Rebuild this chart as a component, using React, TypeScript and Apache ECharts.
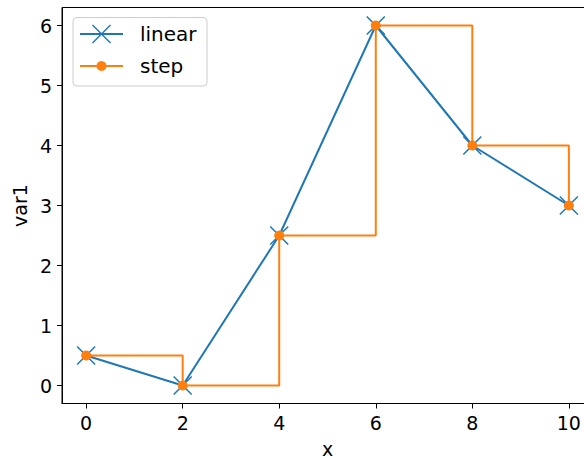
import React, { useEffect, useRef } from "react";
import * as echarts from "echarts";

const xValues = [0, 2, 4, 6, 8, 10];
const linearValues = [0.5, 0, 2.5, 6, 4, 3];
const stepValues = [0.5, 0, 2.5, 6, 4, 3];
const xTicks = [0, 2, 4, 6, 8, 10];
const yTicks = [0, 1, 2, 3, 4, 5, 6];
const seriesNames = ["linear", "step"];

const BLUE = "#1f77b4";
const ORANGE = "#ff7f0e";
const FONT = "DejaVu Sans";

export default function App() {
  const ref = useRef<HTMLDivElement>(null);
  useEffect(() => {
    if (!ref.current) return;
    const chart = echarts.init(ref.current, undefined, { renderer: "svg" });
    const axisCommon = {
      type: "value" as const,
      axisLine: { show: true, onZero: false, lineStyle: { color: "#000", width: 1 } },
      axisTick: { show: true, inside: false, length: 5, lineStyle: { color: "#000", width: 1 } },
      splitLine: { show: false },
    };
    chart.setOption({
      animation: false,
      grid: {
        left: 62,
        top: 7.5,
        right: 7,
        bottom: 54.5,
        outerBoundsMode: "none",
        containLabel: false,
        show: true,
        borderColor: "#000",
        borderWidth: 1,
        backgroundColor: "transparent",
      },
      xAxis: {
        ...axisCommon,
        min: -0.5,
        max: 10.5,
        axisTick: { ...axisCommon.axisTick, customValues: xTicks },
        axisLabel: {
          customValues: xTicks,
          margin: 10,
          fontFamily: FONT,
          fontSize: 19,
          color: "#000",
        },
        name: "x",
        nameLocation: "middle",
        nameGap: 38,
        nameTextStyle: { fontFamily: FONT, fontSize: 19, lineHeight: 14, color: "#000" },
      },
      yAxis: {
        ...axisCommon,
        min: -0.3,
        max: 6.3,
        axisTick: { ...axisCommon.axisTick, customValues: yTicks },
        axisLabel: {
          customValues: yTicks,
          margin: 10,
          fontFamily: FONT,
          fontSize: 19,
          color: "#000",
        },
        name: "var1",
        nameLocation: "middle",
        nameGap: 30,
        nameTextStyle: { fontFamily: FONT, fontSize: 19, color: "#000" },
      },
      series: [
        {
          name: seriesNames[0],
          type: "line",
          data: xValues.map((x, i) => [x, linearValues[i]]),
          lineStyle: { color: BLUE, width: 2 },
          symbol: "path://M0,0L10,10M10,0L0,10",
          symbolSize: 18,
          showAllSymbol: true,
          itemStyle: { color: "transparent", borderColor: BLUE, borderWidth: 1.5 },
          z: 2,
        },
        {
          name: seriesNames[1],
          type: "line",
          step: "end",
          data: xValues.map((x, i) => [x, stepValues[i]]),
          lineStyle: { color: ORANGE, width: 2 },
          symbol: "circle",
          symbolSize: 10,
          showAllSymbol: true,
          itemStyle: { color: ORANGE, borderWidth: 0 },
          z: 3,
        },
      ],
      graphic: [
        {
          type: "group",
          z: 100,
          children: [
            {
              type: "rect",
              shape: { x: 73, y: 17.5, width: 134, height: 68.5, r: 4 },
              style: { fill: "rgba(255,255,255,0.8)", stroke: "#cccccc", lineWidth: 1 },
            },
            {
              type: "line",
              shape: { x1: 80, y1: 34, x2: 123, y2: 34 },
              style: { stroke: BLUE, lineWidth: 2 },
            },
            {
              type: "line",
              shape: { x1: 92.5, y1: 25, x2: 110.5, y2: 43 },
              style: { stroke: BLUE, lineWidth: 1.5 },
            },
            {
              type: "line",
              shape: { x1: 110.5, y1: 25, x2: 92.5, y2: 43 },
              style: { stroke: BLUE, lineWidth: 1.5 },
            },
            {
              type: "text",
              x: 140,
              y: 34,
              style: { text: seriesNames[0], fontFamily: FONT, fontSize: 20, fill: "#000", verticalAlign: "middle" },
            },
            {
              type: "line",
              shape: { x1: 80, y1: 66, x2: 123, y2: 66 },
              style: { stroke: ORANGE, lineWidth: 2 },
            },
            {
              type: "circle",
              shape: { cx: 101.5, cy: 66, r: 5 },
              style: { fill: ORANGE },
            },
            {
              type: "text",
              x: 140,
              y: 66,
              style: { text: seriesNames[1], fontFamily: FONT, fontSize: 20, fill: "#000", verticalAlign: "middle" },
            },
          ],
        },
      ],
    });
    return () => chart.dispose();
  }, []);
  return (
    <div style={{ position: "fixed", left: 0, top: 0, width: 584, height: 458, overflow: "hidden", background: "#fff" }}>
      <div ref={ref} style={{ position: "absolute", left: 0, top: 0, width: 600, height: 458 }} />
    </div>
  );
}
